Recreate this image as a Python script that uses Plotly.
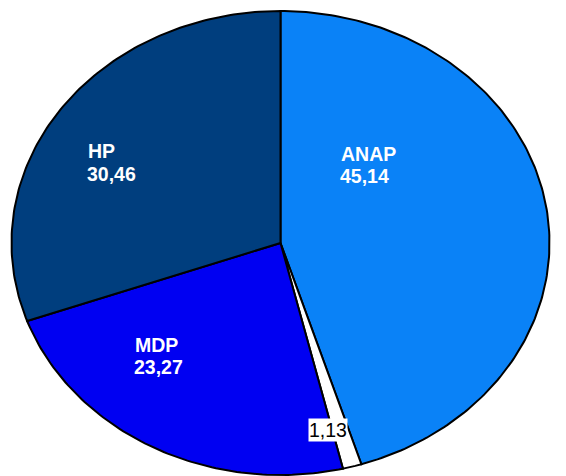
import numpy as np
import plotly.graph_objects as go

# ---- data ----
parties = ["ANAP", "Diğer", "MDP", "HP"]
shares = [45.14, 1.13, 23.27, 30.46]
value_labels = ["45,14", "1,13", "23,27", "30,46"]
show_name = [True, False, True, True]

# ---- styling / geometry (pixel space of the 566x476 canvas) ----
colors = ["#0A82F7", "#FFFFFF", "#0000F2", "#003E7E"]
text_colors = ["white", "black", "white", "white"]
CX, CY, RX, RY = 280.5, 243.0, 269.0, 232.0
# label anchor positions (left x, name y, value y)
label_pos = [(339, 154, 176), (308, None, 430), (133, 345, 367), (86, 151, 174)]

fig = go.Figure()
total = sum(shares)
cum = 0.0
for name, v, col in zip(parties, shares, colors):
    a0 = 2 * np.pi * cum / total
    a1 = 2 * np.pi * (cum + v) / total
    t = np.linspace(a0, a1, max(4, int(400 * v / total)))
    xs = np.concatenate([[CX], CX + RX * np.sin(t), [CX]])
    ys = np.concatenate([[CY], CY - RY * np.cos(t), [CY]])
    fig.add_trace(go.Scatter(x=xs, y=ys, fill="toself", fillcolor=col,
                             mode="lines", line=dict(color="black", width=2),
                             hoverinfo="skip", name=name))
    cum += v

font_name = "Liberation Sans"
for name, lab, sn, tc, (lx, ny, vy) in zip(parties, value_labels, show_name, text_colors, label_pos):
    bold = tc == "white"
    if sn:
        fig.add_annotation(x=lx, y=ny, text=f"<b>{name}</b>" if bold else name,
                           showarrow=False, xanchor="left", yanchor="middle",
                           font=dict(family=font_name, size=19.5, color=tc))
    fig.add_annotation(x=lx, y=vy, text=f"<b>{lab}</b>" if bold else lab,
                       showarrow=False, xanchor="left", yanchor="middle",
                       bgcolor=None if bold else "white", borderpad=0,
                       font=dict(family=font_name, size=19.5, color=tc))

fig.update_layout(width=566, height=476, margin=dict(l=0, r=0, t=0, b=0),
                  paper_bgcolor="white", plot_bgcolor="white", showlegend=False)
fig.update_xaxes(range=[0, 566], visible=False, fixedrange=True)
fig.update_yaxes(range=[476, 0], visible=False, fixedrange=True)
fig.write_html("out.html", config={"displayModeBar": False},
               post_script="document.body.style.margin='0';")
